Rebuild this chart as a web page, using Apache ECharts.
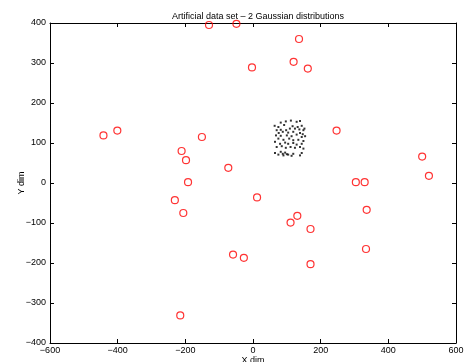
<!DOCTYPE html>
<html>
<head>
<meta charset="utf-8">
<script src="https://cdn.jsdelivr.net/npm/echarts@6/dist/echarts.min.js"></script>
<style>html,body{margin:0;padding:0;background:#fff;}#c{width:464px;height:362px;}</style>
</head>
<body>
<div id="c"></div>
<script>
var titleText = 'Artificial data set \u2013 2 Gaussian distributions';
var xName = 'X dim';
var yName = 'Y dim';
var xTicks = [-600, -400, -200, 0, 200, 400, 600];
var yTicks = [-400, -300, -200, -100, 0, 100, 200, 300, 400];

// Red circles: scattered Gaussian (x, y)
var redX = [-442, -401, -151, -211, -198, -73, -192, -231, -206,
            12, 131, 111, 170, -59, -27, 170, -215,
            -130, -49, 136, -3, 120, 162,
            247, 500, 520, 304, 330, 336, 334];
var redY = [119, 131, 115, 80, 57, 38, 2, -43, -75,
            -36, -82, -99, -115, -179, -187, -203, -331,
            395, 398, 360, 289, 303, 286,
            131, 66, 18, 2, 2, -67, -165];

// Black dots: tight Gaussian cluster (x, y)
var blackX = [82, 97, 112, 129, 139, 64, 75, 92, 117, 132, 144, 152, 70, 82, 98, 109, 124, 137, 149,
              76, 88, 104, 119, 139, 147, 68, 82, 100, 114, 129, 144, 154, 75, 90, 107, 119, 134, 149,
              65, 80, 95, 104, 119, 129, 144, 70, 85, 97, 111, 124, 139, 149, 65, 82, 88, 95, 100, 119,
              144, 75, 90, 104, 114, 139];
var blackY = [151, 154, 156, 153, 155, 143, 140, 145, 142, 140, 143, 136, 132, 133, 132, 136, 136, 134, 132,
              125, 128, 126, 128, 125, 122, 119, 118, 119, 117, 121, 115, 117, 111, 108, 111, 107, 108, 105,
              103, 98, 101, 98, 100, 96, 98, 90, 92, 88, 90, 88, 90, 86, 75, 78, 73, 76, 72, 73,
              75, 71, 69, 71, 68, 69];

function zip(a, b) { var r = []; for (var i = 0; i < a.length; i++) r.push([a[i], b[i]]); return r; }
function fmt(v) { return String(v).replace('-', '\u2212'); }

var font = 'Liberation Sans, Arial, Helvetica, sans-serif';
var lbl = { color: '#000', fontSize: 9, fontFamily: font, formatter: fmt };
var tickIn = { show: true, inside: true, length: 4, lineStyle: { color: '#000', width: 1 } };
var line = { show: true, onZero: false, lineStyle: { color: '#000', width: 1 } };

var chart = echarts.init(document.getElementById('c'), null, { renderer: 'canvas' });
chart.setOption({
  animation: false,
  backgroundColor: '#fff',
  title: {
    text: titleText, left: 253, top: 7, textAlign: 'center',
    textStyle: { fontSize: 9, fontWeight: 'normal', color: '#000', fontFamily: font }
  },
  grid: { left: 50, right: 8, top: 23, bottom: 19, containLabel: false, outerBoundsMode: 'none' },
  xAxis: [
    { type: 'value', min: -600, max: 600, interval: 200, position: 'bottom',
      name: xName, nameLocation: 'middle', nameGap: 13, nameMoveOverlap: false,
      nameTextStyle: { fontSize: 9, color: '#000', fontFamily: font },
      axisLine: line, axisTick: tickIn, axisLabel: Object.assign({ margin: 3 }, lbl), splitLine: { show: false } },
    { type: 'value', min: -600, max: 600, interval: 200, position: 'top',
      axisLine: line, axisTick: tickIn, axisLabel: { show: false }, splitLine: { show: false } }
  ],
  yAxis: [
    { type: 'value', min: -400, max: 400, interval: 100, position: 'left',
      name: yName, nameLocation: 'middle', nameGap: 24, nameRotate: 90, nameMoveOverlap: false,
      nameTextStyle: { fontSize: 9, color: '#000', fontFamily: font },
      axisLine: line, axisTick: tickIn, axisLabel: Object.assign({ margin: 4 }, lbl), splitLine: { show: false } },
    { type: 'value', min: -400, max: 400, interval: 100, position: 'right',
      axisLine: line, axisTick: tickIn, axisLabel: { show: false }, splitLine: { show: false } }
  ],
  series: [
    { type: 'scatter', data: zip(blackX, blackY), symbol: 'rect', symbolSize: 2,
      itemStyle: { color: '#000' }, silent: true },
    { type: 'scatter', data: zip(redX, redY), symbol: 'circle', symbolSize: 7,
      itemStyle: { color: 'rgba(0,0,0,0)', borderColor: '#ff0000', borderWidth: 1.2 }, silent: true }
  ]
});
</script>
</body>
</html>
